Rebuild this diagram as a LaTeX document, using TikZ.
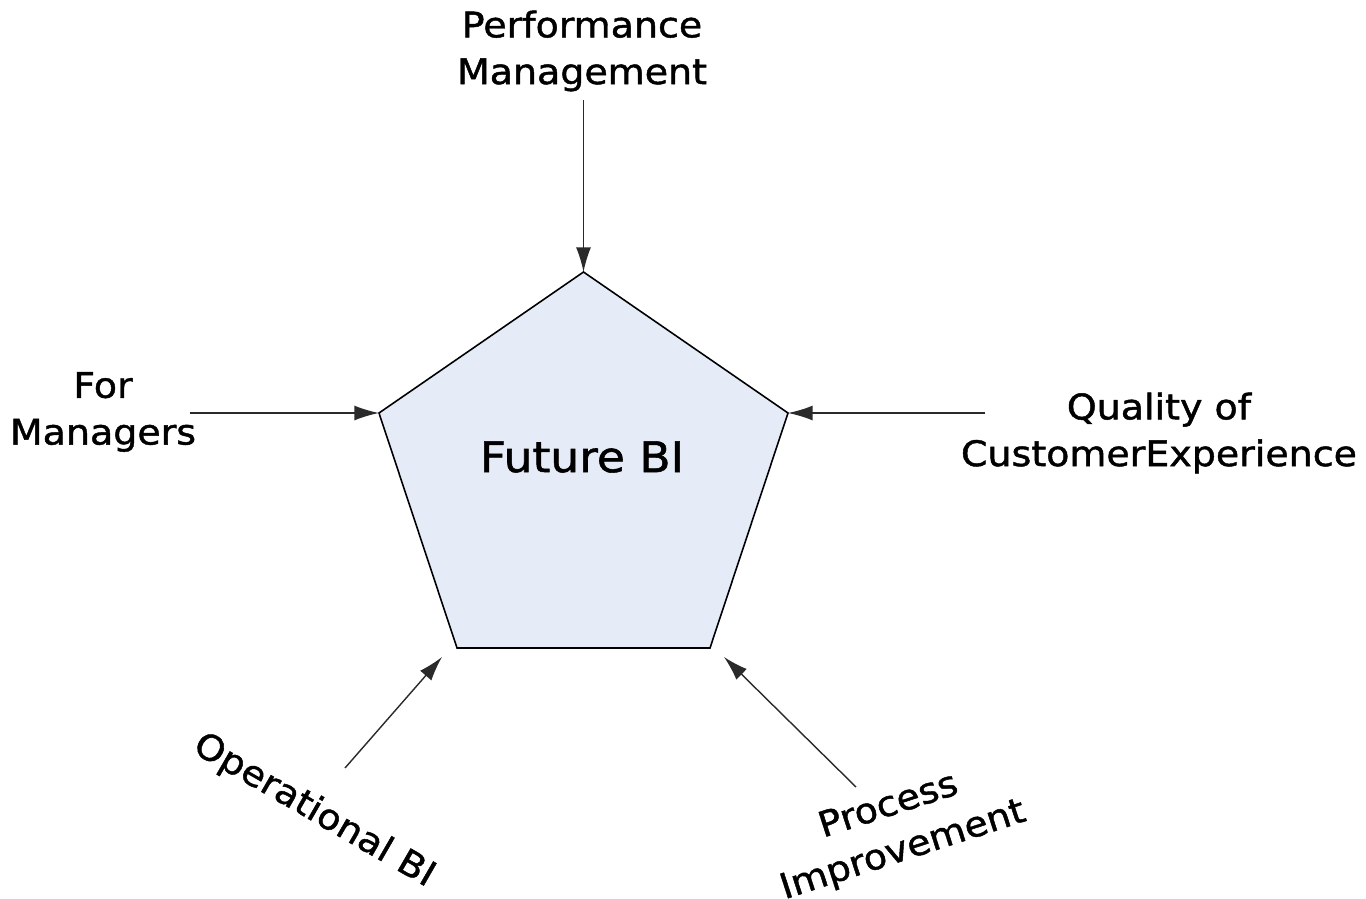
\documentclass[tikz,border=0pt]{standalone}
\usepackage{fontspec}
\setmainfont{DejaVu Sans}[FakeStretch=1.08,FakeBold=1.3]
\usetikzlibrary{arrows.meta}
\definecolor{pentfill}{HTML}{E5ECF7}
\definecolor{feedline}{HTML}{2A2A2A}
\begin{document}
\begin{tikzpicture}[x = 0.02cm, y = -0.02cm]
	
		\tikzset{
		  lab/.style={
			align=center,
			inner sep=0pt,
			font=\fontsize{20}{26.6}\selectfont,
		  },
		  feed/.style={
			draw=feedline,
			line width=0.8pt,
			-{Latex[length=14pt,width=8.5pt]},
		  },
		}
		\useasboundingbox (0,0) rectangle (1366,899);
		\coordinate (ptop) at (583.5,272);
		\coordinate (pright) at (788,413);
		\coordinate (pbr) at (710,648);
		\coordinate (pbl) at (457,648);
		\coordinate (pleft) at (379,413);
		\draw[fill = pentfill,line width = 0.9pt,line join = miter] (ptop)--(pright)--(pbr)--(pbl)--(pleft)--cycle;
		\node (future) at (582,457) [anchor = center] {\fontsize{24}{30}\selectfont Future BI};
		\node[lab] (perf) at (582,51) [anchor = center] {Performance\\Management};
		\node[lab] (mgr) at (103,412) [anchor = center] {For\\Managers};
		\node[lab] (qual) at (1159,433) [anchor = center] {Quality of\\CustomerExperience};
		\node[lab,rotate = -30] (oper) at (314,811) [anchor = center] {Operational BI};
		\node[lab,rotate = 18] (proc) at (896,829) [anchor = center] {Process\\Improvement};
		\coordinate (tperf) at (583.5,100);
		\coordinate (tmgr) at (190,413);
		\coordinate (tqual) at (985,413);
		\coordinate (toper) at (345,768);
		\coordinate (tproc) at (856,787);
		\coordinate (hoper) at (442,657);
		\coordinate (hproc) at (724,657);
		\draw[feed] (tperf)--(ptop);
		\draw[feed] (tmgr)--(pleft);
		\draw[feed] (tqual)--(pright);
		\draw[feed] (toper)--(hoper);
		\draw[feed] (tproc)--(hproc);
	
	\end{tikzpicture}
\end{document}
